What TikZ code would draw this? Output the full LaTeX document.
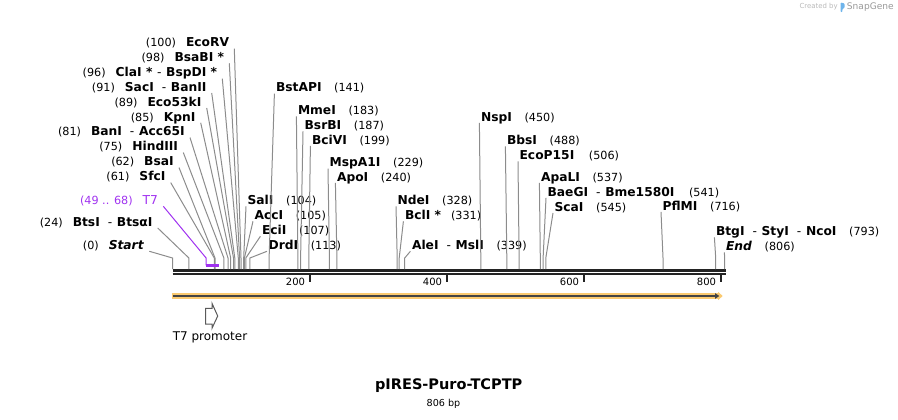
\documentclass[tikz,border=0pt]{standalone}
\usepackage{fontspec}
\setmainfont{DejaVu Sans}
\usetikzlibrary{arrows.meta}
\definecolor{leadgray}{RGB}{140,140,140}
\definecolor{featpurple}{RGB}{160,50,240}
\definecolor{orfband}{RGB}{251,202,112}
\definecolor{axisdark}{RGB}{35,35,35}
\definecolor{promogray}{RGB}{90,90,90}
\definecolor{logoblue}{RGB}{110,180,235}
\newcommand{\sitepos}[1]{{\fontsize{8.4}{9}\selectfont(#1)}}
\begin{document}
\begin{tikzpicture}[x=0.75pt, y=-0.75pt,
    leader/.style={draw=leadgray, line width=0.75pt},
    leftlab/.style={anchor=east, inner xsep=3.75pt, inner ysep=1pt,
      text height=7pt, text depth=0pt, font=\fontsize{9.2}{11}\selectfont},
    rightlab/.style={anchor=west, inner xsep=1pt, inner ysep=1pt,
      text height=7pt, text depth=0pt, font=\fontsize{9.2}{11}\selectfont},
    scalelab/.style={anchor=east, inner sep=0pt, text height=5.5pt,
      text depth=0pt, font=\fontsize{7.5}{9}\selectfont}]
  \useasboundingbox (0,0) rectangle (898,419);

  % sequence line
  \draw[axisdark, line width=2pt] (172.5,270.3) -- (725.7,270.3);
  \draw[axisdark, line width=1.7pt] (172.5,273.8) -- (725.7,273.8);
  \coordinate (stub) at (0,258);

  % cut sites
  \coordinate (Start-site) at (172.5,269);
  \coordinate (BtsI-site) at (188.9,269);
  \coordinate (T7-site) at (206.1,265.3);
  \coordinate (T7-end) at (219.1,265.3);
  \coordinate (SfcI-site) at (214.3,269);
  \coordinate (BsaI-site) at (215.0,269);
  \coordinate (HindIII-site) at (223.9,269);
  \coordinate (BanI-site) at (228.0,269);
  \coordinate (KpnI-site) at (230.7,269);
  \coordinate (Eco53kI-site) at (233.5,269);
  \coordinate (SacI-site) at (234.8,269);
  \coordinate (ClaI-site) at (238.3,269);
  \coordinate (BsaBI-site) at (239.6,269);
  \coordinate (EcoRV-site) at (241.0,269);
  \coordinate (SalI-site) at (243.7,269);
  \coordinate (AccI-site) at (244.4,269);
  \coordinate (EciI-site) at (245.8,269);
  \coordinate (DrdI-site) at (249.9,269);
  \coordinate (BstAPI-site) at (269.1,269);
  \coordinate (MmeI-site) at (297.9,269);
  \coordinate (BsrBI-site) at (300.6,269);
  \coordinate (BciVI-site) at (308.8,269);
  \coordinate (MspA1I-site) at (329.4,269);
  \coordinate (ApoI-site) at (336.9,269);
  \coordinate (NdeI-site) at (397.2,269);
  \coordinate (BclI-site) at (399.2,269);
  \coordinate (AleI-site) at (404.7,269);
  \coordinate (NspI-site) at (480.8,269);
  \coordinate (BbsI-site) at (506.8,269);
  \coordinate (EcoP15I-site) at (519.1,269);
  \coordinate (ApaLI-site) at (540.3,269);
  \coordinate (BaeGI-site) at (543.1,269);
  \coordinate (ScaI-site) at (545.8,269);
  \coordinate (PflMI-site) at (663.0,269);
  \coordinate (BtgI-site) at (715.7,269);
  \coordinate (End-site) at (724.6,269);

  % labels on the left
  \node[leftlab] (EcoRV) at (234.3,42.3) {\sitepos{100}\hspace{7.5pt}\textbf{EcoRV}};
  \node[leftlab] (BsaBI) at (229.3,57) {\sitepos{98}\hspace{7.5pt}\textbf{BsaBI *}};
  \node[leftlab] (ClaI) at (222.3,72.3) {\sitepos{96}\hspace{7.5pt}\textbf{ClaI *}\hspace{3.5pt}-\hspace{3.5pt}\textbf{BspDI *}};
  \node[leftlab] (SacI) at (211.7,86.7) {\sitepos{91}\hspace{7.5pt}\textbf{SacI}\hspace{6pt}-\hspace{3.5pt}\textbf{BanII}};
  \node[leftlab] (Eco53kI) at (206.7,101.7) {\sitepos{89}\hspace{7.5pt}\textbf{Eco53kI}};
  \node[leftlab] (KpnI) at (200.7,116.5) {\sitepos{85}\hspace{7.5pt}\textbf{KpnI}};
  \node[leftlab] (BanI) at (190,131.3) {\sitepos{81}\hspace{7.5pt}\textbf{BanI}\hspace{6pt}-\hspace{3.5pt}\textbf{Acc65I}};
  \node[leftlab] (HindIII) at (183.3,146.3) {\sitepos{75}\hspace{7.5pt}\textbf{HindIII}};
  \node[leftlab] (BsaI) at (179,161.3) {\sitepos{62}\hspace{7.5pt}\textbf{BsaI}};
  \node[leftlab] (SfcI) at (170.7,176.3) {\sitepos{61}\hspace{7.5pt}\textbf{SfcI}};
  \node[leftlab, text=featpurple] (T7) at (163.3,200) {\sitepos{49 .. 68}\hspace{7.5pt}T7};
  \node[leftlab] (BtsI) at (157.7,221.7) {\sitepos{24}\hspace{7.5pt}\textbf{BtsI}\hspace{6pt}-\hspace{3.5pt}\textbf{BtsαI}};
  \node[leftlab] (Start) at (149.3,245) {\sitepos{0}\hspace{7.5pt}\textbf{\textit{Start}}};

  % labels on the right
  \node[rightlab] (BstAPI) at (274.4,87.3) {\textbf{BstAPI}\hspace{9.5pt}\sitepos{141}};
  \node[rightlab] (MmeI) at (296.4,110) {\textbf{MmeI}\hspace{9.5pt}\sitepos{183}};
  \node[rightlab] (BsrBI) at (303,125) {\textbf{BsrBI}\hspace{9.5pt}\sitepos{187}};
  \node[rightlab] (BciVI) at (310.4,139.5) {\textbf{BciVI}\hspace{9.5pt}\sitepos{199}};
  \node[rightlab] (MspA1I) at (328,162.3) {\textbf{MspA1I}\hspace{9.5pt}\sitepos{229}};
  \node[rightlab] (ApoI) at (335.4,176.7) {\textbf{ApoI}\hspace{9.5pt}\sitepos{240}};
  \node[rightlab] (SalI) at (246,200) {\textbf{SalI}\hspace{9.5pt}\sitepos{104}};
  \node[rightlab] (AccI) at (253,215) {\textbf{AccI}\hspace{9.5pt}\sitepos{105}};
  \node[rightlab] (EciI) at (260.4,230) {\textbf{EciI}\hspace{9.5pt}\sitepos{107}};
  \node[rightlab] (DrdI) at (267,245) {\textbf{DrdI}\hspace{9.5pt}\sitepos{113}};
  \node[rightlab] (NdeI) at (396,200) {\textbf{NdeI}\hspace{9.5pt}\sitepos{328}};
  \node[rightlab] (BclI) at (403.4,215) {\textbf{BclI *}\hspace{7.5pt}\sitepos{331}};
  \node[rightlab] (AleI) at (410.4,245) {\textbf{AleI}\hspace{6pt}-\hspace{3.5pt}\textbf{MslI}\hspace{9.5pt}\sitepos{339}};
  \node[rightlab] (NspI) at (479.4,116.7) {\textbf{NspI}\hspace{9.5pt}\sitepos{450}};
  \node[rightlab] (BbsI) at (505.4,140) {\textbf{BbsI}\hspace{9.5pt}\sitepos{488}};
  \node[rightlab] (EcoP15I) at (518,155) {\textbf{EcoP15I}\hspace{11pt}\sitepos{506}};
  \node[rightlab] (ApaLI) at (539.4,176.7) {\textbf{ApaLI}\hspace{9.5pt}\sitepos{537}};
  \node[rightlab] (BaeGI) at (546,191.7) {\textbf{BaeGI}\hspace{6pt}-\hspace{3.5pt}\textbf{Bme1580I}\hspace{11pt}\sitepos{541}};
  \node[rightlab] (ScaI) at (553,206.7) {\textbf{ScaI}\hspace{9.5pt}\sitepos{545}};
  \node[rightlab] (PflMI) at (661,205.7) {\textbf{PflMI}\hspace{9.5pt}\sitepos{716}};
  \node[rightlab] (BtgI) at (714.4,231) {\textbf{BtgI}\hspace{6pt}-\hspace{3.5pt}\textbf{StyI}\hspace{6pt}-\hspace{3.5pt}\textbf{NcoI}\hspace{9.5pt}\sitepos{793}};
  \node[rightlab] (End) at (724.4,246) {\textbf{\textit{End}}\hspace{9.5pt}\sitepos{806}};

  % leaders
  \begin{scope}[leader]
    \draw (EcoRV.south east) -- (EcoRV-site |- stub) -- (EcoRV-site);
    \draw (BsaBI.south east) -- (BsaBI-site |- stub) -- (BsaBI-site);
    \draw (ClaI.south east) -- (ClaI-site |- stub) -- (ClaI-site);
    \draw (SacI.south east) -- (SacI-site |- stub) -- (SacI-site);
    \draw (Eco53kI.south east) -- (Eco53kI-site |- stub) -- (Eco53kI-site);
    \draw (KpnI.south east) -- (KpnI-site |- stub) -- (KpnI-site);
    \draw (BanI.south east) -- (BanI-site |- stub) -- (BanI-site);
    \draw (HindIII.south east) -- (HindIII-site |- stub) -- (HindIII-site);
    \draw (BsaI.south east) -- (BsaI-site |- stub) -- (BsaI-site);
    \draw (SfcI.south east) -- (SfcI-site |- stub) -- (SfcI-site);
    \draw (BtsI.south east) -- (BtsI-site |- stub) -- (BtsI-site);
    \draw (Start.south east) -- (Start-site |- stub) -- (Start-site);
    \draw (BstAPI.south west) -- (BstAPI-site |- stub) -- (BstAPI-site);
    \draw (MmeI.south west) -- (MmeI-site |- stub) -- (MmeI-site);
    \draw (BsrBI.south west) -- (BsrBI-site |- stub) -- (BsrBI-site);
    \draw (BciVI.south west) -- (BciVI-site |- stub) -- (BciVI-site);
    \draw (MspA1I.south west) -- (MspA1I-site |- stub) -- (MspA1I-site);
    \draw (ApoI.south west) -- (ApoI-site |- stub) -- (ApoI-site);
    \draw (SalI.south west) -- (SalI-site |- stub) -- (SalI-site);
    \draw (AccI.south west) -- (AccI-site |- stub) -- (AccI-site);
    \draw (EciI.south west) -- (EciI-site |- stub) -- (EciI-site);
    \draw (DrdI.south west) -- (DrdI-site |- stub) -- (DrdI-site);
    \draw (NdeI.south west) -- (NdeI-site |- stub) -- (NdeI-site);
    \draw (BclI.south west) -- (BclI-site |- stub) -- (BclI-site);
    \draw (AleI.south west) -- (AleI-site |- stub) -- (AleI-site);
    \draw (NspI.south west) -- (NspI-site |- stub) -- (NspI-site);
    \draw (BbsI.south west) -- (BbsI-site |- stub) -- (BbsI-site);
    \draw (EcoP15I.south west) -- (EcoP15I-site |- stub) -- (EcoP15I-site);
    \draw (ApaLI.south west) -- (ApaLI-site |- stub) -- (ApaLI-site);
    \draw (BaeGI.south west) -- (BaeGI-site |- stub) -- (BaeGI-site);
    \draw (ScaI.south west) -- (ScaI-site |- stub) -- (ScaI-site);
    \draw (PflMI.south west) -- (PflMI-site |- stub) -- (PflMI-site);
    \draw (BtgI.south west) -- (BtgI-site |- stub) -- (BtgI-site);
    \draw (End.south west) -- (End-site |- stub) -- (End-site);
  \end{scope}

  % T7 feature
  \draw[featpurple, line width=0.75pt] (T7.south east) -- (T7-site |- stub) -- (T7-site);
  \draw[featpurple, line width=2.2pt] ([xshift=-0.4pt]T7-site) -- (T7-end);

  % scale
  \draw[axisdark, line width=1.5pt] (309.5,274.5) -- (309.5,282);
  \draw[axisdark, line width=1.5pt] (446.5,274.5) -- (446.5,282);
  \draw[axisdark, line width=1.5pt] (583.5,274.5) -- (583.5,282);
  \draw[axisdark, line width=1.5pt] (720.5,274.5) -- (720.5,282);
  \node[scalelab] (t200) at (305.3,282) {200};
  \node[scalelab] (t400) at (442.3,282) {400};
  \node[scalelab] (t600) at (579.3,282) {600};
  \node[scalelab] (t800) at (716.3,282) {800};

  % open reading frame
  \draw[orfband, line width=4.5pt, -{Triangle[length=3.5pt,width=6pt]}] (171.7,296) -- (722.7,296);
  \draw[axisdark!85, line width=1.5pt, -{Triangle[length=3.2pt,width=4pt]}] (173.3,296) -- (719.3,296);

  % T7 promoter
  \draw[promogray, line width=0.75pt, fill=white, line join=miter]
    (205.7,308.3) -- (212,308.3) -- (212,303.3) -- (217.7,316)
    -- (212,328.3) -- (212,324) -- (205.7,324) -- cycle;
  \node[anchor=west, inner sep=0pt, font=\fontsize{9}{11}\selectfont] (T7prom) at (172.5,337) {T7 promoter};

  % title
  \node[inner sep=0pt, font=\bfseries\fontsize{10.9}{13}\selectfont] (title) at (448.7,385.7) {pIRES-Puro-TCPTP};
  \node[inner sep=0pt, font=\fontsize{7.2}{9}\selectfont] (length) at (443.5,404) {806 bp};

  % credit
  \node[anchor=east, inner sep=0pt, text=gray!55, font=\fontsize{5.2}{6}\selectfont] (credit) at (838,7) {Created by};
  \fill[logoblue, rounded corners=0.6pt] (840.6,12) -- (840.6,2.5) -- (844.5,3.5)
    -- (844.5,8) -- (842.3,9) -- (842.3,12) -- cycle;
  \node[anchor=west, inner sep=0pt, text=gray!80, font=\fontsize{6.8}{8}\selectfont] (brand) at (846.7,7) {SnapGene};
\end{tikzpicture}
\end{document}
